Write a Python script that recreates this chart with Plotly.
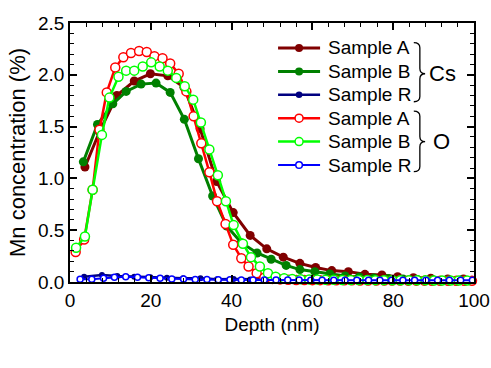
import plotly.graph_objects as go

# ---- data ----
cs_a_x = [3.7, 7.3, 11.6, 15.9, 19.9, 24.2, 28.2, 32.2, 36.3, 40.4, 44.6, 48.7, 52.8, 56.9, 60.8, 64.8,
          68.9, 73.0, 77.2, 81.1, 85.0, 89.3, 93.5, 97.4]
cs_a_y = [1.11, 1.45, 1.80, 1.94, 2.01, 1.99, 1.88, 1.48, 0.97, 0.67, 0.45, 0.32, 0.24, 0.18, 0.14, 0.11,
          0.10, 0.074, 0.068, 0.051, 0.042, 0.036, 0.029, 0.029]

cs_b_x = [3.3, 6.8, 10.6, 13.9, 17.6, 21.3, 24.8, 28.3, 31.8, 35.3, 38.8, 42.4, 46.3, 49.8, 53.5, 56.9,
          60.6, 64.3, 68.1, 71.6, 75.2, 78.8, 82.4, 86.0, 89.6, 93.2, 96.8]
cs_b_y = [1.16, 1.52, 1.72, 1.84, 1.91, 1.92, 1.83, 1.57, 1.19, 0.83, 0.54, 0.38, 0.28, 0.22, 0.16, 0.12,
          0.10, 0.077, 0.058, 0.048, 0.039, 0.034, 0.029, 0.024, 0.024, 0.019, 0.019]

cs_r_x = [3.5, 7.9, 11.7, 15.9, 19.9, 24.0, 28.0, 32.3, 36.4, 40.5, 44.6, 48.7, 52.8, 56.9, 60.9, 65.0,
          69.0, 73.1, 77.2, 81.2, 85.3, 89.4, 93.4, 97.5]
cs_r_y = [0.051, 0.068, 0.058, 0.051, 0.045, 0.042, 0.036, 0.036, 0.026, 0.028, 0.025, 0.024, 0.022, 0.022,
          0.020, 0.020, 0.019, 0.019, 0.018, 0.018, 0.017, 0.017, 0.016, 0.016]

o_a_x = [1.4, 3.5, 5.6, 7.3, 9.1, 11.2, 13.2, 15.1, 17.1, 19.0, 20.9, 22.9, 24.8, 26.9, 28.8, 30.6, 32.5,
         34.5, 36.4, 38.5, 40.4, 42.4, 44.2, 46.2, 48.1, 50.1, 52.0, 54.0, 56.0, 58.0, 60.0, 61.9, 63.9,
         65.9, 67.9, 69.8, 71.8, 73.8, 75.8, 77.8, 79.7, 81.7, 83.7, 85.7, 87.7, 89.6, 91.6, 93.6, 95.6,
         97.6, 99.5]
o_a_y = [0.29, 0.41, 0.89, 1.47, 1.83, 2.07, 2.17, 2.21, 2.23, 2.22, 2.18, 2.16, 2.11, 2.01, 1.84, 1.60,
         1.34, 1.06, 0.78, 0.56, 0.36, 0.23, 0.15, 0.084, 0.042, 0.030, 0.025, 0.022, 0.020, 0.019, 0.018,
         0.018, 0.017, 0.017, 0.016, 0.016, 0.015, 0.015, 0.015, 0.014, 0.014, 0.014, 0.013, 0.013, 0.013,
         0.012, 0.012, 0.012, 0.012, 0.011, 0.011]

o_b_x = [1.5, 3.7, 5.6, 7.9, 9.75, 12.0, 13.9, 15.9, 18.0, 20.1, 22.2, 24.2, 26.3, 28.4, 30.5, 32.4, 34.5,
         36.6, 38.6, 40.5, 42.8, 44.8, 47.0, 49.0, 50.9, 53.0, 55.0, 57.1, 59.2, 61.2, 63.3, 65.3, 67.4,
         69.5, 71.5, 73.6, 75.6, 77.7, 79.8, 81.8, 83.9, 85.9, 88.0, 90.1, 92.1, 94.2, 96.2, 98.3]
o_b_y = [0.33, 0.44, 0.89, 1.42, 1.78, 1.98, 2.04, 2.04, 2.08, 2.12, 2.08, 2.04, 1.97, 1.89, 1.76, 1.54,
         1.28, 1.03, 0.78, 0.55, 0.37, 0.24, 0.15, 0.084, 0.050, 0.035, 0.030, 0.027, 0.025, 0.023, 0.022,
         0.021, 0.020, 0.020, 0.019, 0.019, 0.018, 0.018, 0.017, 0.017, 0.016, 0.016, 0.016, 0.015, 0.015,
         0.015, 0.014, 0.014]

o_r_x = [2.5, 5.4, 8.3, 11.0, 13.8, 16.7, 19.5, 22.3, 25.2, 28.1, 31.0, 33.9, 36.7, 39.6, 42.4, 45.3,
         48.1, 51.0, 53.9, 56.7, 59.6, 62.4, 65.3, 68.1, 71.0, 73.9, 76.7, 79.6, 82.4, 85.3, 88.1, 91.0,
         93.9, 96.7, 99.6]
o_r_y = [0.026, 0.026, 0.035, 0.045, 0.050, 0.045, 0.040, 0.035, 0.030, 0.030, 0.025, 0.025, 0.022, 0.022,
         0.020, 0.020, 0.020, 0.019, 0.019, 0.019, 0.018, 0.018, 0.018, 0.018, 0.017, 0.017, 0.017, 0.017,
         0.016, 0.016, 0.016, 0.016, 0.016, 0.016, 0.016]

names = ["Sample A", "Sample B", "Sample R", "Sample A", "Sample B", "Sample R"]
group_labels = ["Cs", "O"]

FONT = "Liberation Sans, Arial, Helvetica, sans-serif"

# series styles: (color, filled?, marker size, line width)
styles = [("#800000", True, 9, 3), ("#008000", True, 9, 3), ("#000080", True, 6, 2.5),
          ("#ff0000", False, 9, 2.5), ("#00ff00", False, 9, 2.5), ("#0000ff", False, 6, 2)]
series = [(cs_a_x, cs_a_y), (cs_b_x, cs_b_y), (cs_r_x, cs_r_y),
          (o_a_x, o_a_y), (o_b_x, o_b_y), (o_r_x, o_r_y)]

fig = go.Figure()
for (x, y), name, (color, fill, size, lw) in zip(series, names, styles):
    marker = (dict(color=color, size=size, line=dict(width=0)) if fill else
              dict(color="white", size=size, line=dict(color=color, width=1.5)))
    fig.add_trace(go.Scatter(x=x, y=y, name=name, mode="lines+markers",
                             line=dict(color=color, width=lw), marker=marker,
                             cliponaxis=False, showlegend=False))

axis_common = dict(showline=True, linecolor="black", linewidth=1.5, mirror="ticks",
                   ticks="inside", ticklen=7, tickwidth=1.5, tickcolor="black",
                   showgrid=False, zeroline=False, automargin=False,
                   tickfont=dict(family=FONT, size=19, color="black"))

fig.update_xaxes(range=[0, 100], dtick=20, tick0=0,
                 minor=dict(dtick=4, ticks="inside", ticklen=4, tickwidth=1.2, tickcolor="black"),
                 title=dict(text="Depth (nm)", font=dict(family=FONT, size=19, color="black"), standoff=8),
                 **axis_common)
fig.update_yaxes(range=[0, 2.5], dtick=0.5, tick0=0, tickformat=".1f",
                 minor=dict(dtick=0.1, ticks="inside", ticklen=4, tickwidth=1.2, tickcolor="black"),
                 title=dict(text="Mn concentration (%)", font=dict(family=FONT, size=22, color="black"), standoff=6),
                 **axis_common)

# ---- legend drawn as key (paper coordinates) ----
row_y = [0.9035, 0.8131, 0.7228, 0.6324, 0.5421, 0.4517]
lx0, lx1, lxm, ltx = 0.515, 0.619, 0.567, 0.634
for yy, name, (color, fill, size, lw) in zip(row_y, names, styles):
    fig.add_shape(type="line", xref="paper", yref="paper", x0=lx0, x1=lx1, y0=yy, y1=yy,
                  line=dict(color=color, width=lw))
    r = 4 if size > 7 else 3.3
    fig.add_shape(type="circle", xref="paper", yref="paper", xsizemode="pixel", ysizemode="pixel",
                  xanchor=lxm, yanchor=yy, x0=-r, x1=r, y0=-r, y1=r,
                  fillcolor=color if fill else "white",
                  line=dict(color=color, width=0 if fill else 1.5))
    fig.add_annotation(xref="paper", yref="paper", x=ltx, y=yy, text=name, showarrow=False,
                       xanchor="left", yanchor="middle",
                       font=dict(family=FONT, size=19, color="black"))

# braces
def brace(top, tip, bottom):
    x0, xm, xt = 85.1, 86.6, 87.9
    return (f"M {x0},{top} Q {xm},{top} {xm},{top-0.05} L {xm},{tip+0.05} "
            f"Q {xm},{tip} {xt},{tip} Q {xm},{tip} {xm},{tip-0.05} "
            f"L {xm},{bottom+0.05} Q {xm},{bottom} {x0},{bottom}")

fig.add_shape(type="path", path=brace(2.31, 2.01, 1.74), xref="x", yref="y",
              line=dict(color="black", width=1.3))
fig.add_shape(type="path", path=brace(1.65, 1.355, 1.065), xref="x", yref="y",
              line=dict(color="black", width=1.3))
fig.add_annotation(x=92.2, y=2.01, text=group_labels[0], showarrow=False, xref="x", yref="y",
                   font=dict(family=FONT, size=22, color="black"))
fig.add_annotation(x=92.0, y=1.355, text=group_labels[1], showarrow=False, xref="x", yref="y",
                   font=dict(family=FONT, size=22, color="black"))

fig.update_layout(
    width=491, height=368,
    margin=dict(l=70, r=17, t=23, b=86, autoexpand=False),
    paper_bgcolor="white", plot_bgcolor="white",
    showlegend=False,
)

# remove the default page margin so the figure fills the window exactly
fig.write_html("out.html", config={"responsive": False, "displayModeBar": False},
               post_script="document.body.style.margin='0px';"
                           "document.documentElement.style.overflow='hidden';")
